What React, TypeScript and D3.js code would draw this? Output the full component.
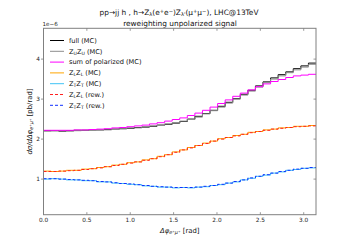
import React from "react";
import * as d3 from "d3";

// histogram contents, 36 bins over [0, pi], units of 1e-6 pb/rad
const nBins = 36;
const fullMC = [2.21, 2.21, 2.2, 2.21, 2.22, 2.22, 2.23, 2.23, 2.24, 2.25, 2.26, 2.27, 2.29, 2.3, 2.32, 2.35, 2.37, 2.4, 2.44, 2.5, 2.57, 2.64, 2.72, 2.82, 2.92, 3.01, 3.12, 3.22, 3.33, 3.43, 3.53, 3.61, 3.68, 3.76, 3.83, 3.9];
const unpolMC = [2.2, 2.21, 2.21, 2.2, 2.21, 2.22, 2.22, 2.24, 2.23, 2.24, 2.26, 2.28, 2.28, 2.31, 2.33, 2.34, 2.38, 2.41, 2.45, 2.49, 2.55, 2.63, 2.71, 2.8, 2.9, 3.0, 3.1, 3.2, 3.3, 3.41, 3.5, 3.58, 3.66, 3.73, 3.8, 3.87];
const sumPolMC = [2.22, 2.22, 2.22, 2.22, 2.23, 2.23, 2.24, 2.25, 2.26, 2.28, 2.29, 2.31, 2.33, 2.35, 2.38, 2.41, 2.45, 2.49, 2.53, 2.59, 2.65, 2.72, 2.8, 2.89, 2.98, 3.07, 3.15, 3.23, 3.31, 3.38, 3.44, 3.49, 3.54, 3.58, 3.6, 3.62];
const longMC = [1.2, 1.19, 1.2, 1.22, 1.22, 1.25, 1.26, 1.29, 1.31, 1.35, 1.37, 1.41, 1.43, 1.48, 1.51, 1.57, 1.61, 1.68, 1.73, 1.79, 1.84, 1.9, 1.95, 2.01, 2.04, 2.09, 2.12, 2.17, 2.19, 2.23, 2.25, 2.28, 2.29, 2.32, 2.32, 2.34];
const transMC = [1.0, 1.01, 1.0, 0.98, 0.98, 0.96, 0.96, 0.93, 0.93, 0.9, 0.89, 0.87, 0.86, 0.83, 0.82, 0.8, 0.8, 0.78, 0.79, 0.78, 0.8, 0.81, 0.84, 0.86, 0.9, 0.93, 0.98, 1.02, 1.07, 1.1, 1.15, 1.18, 1.22, 1.24, 1.27, 1.28];
const longRew = [1.19, 1.19, 1.2, 1.21, 1.22, 1.24, 1.26, 1.28, 1.31, 1.34, 1.37, 1.4, 1.43, 1.47, 1.51, 1.56, 1.61, 1.67, 1.73, 1.78, 1.84, 1.89, 1.95, 2.0, 2.04, 2.08, 2.12, 2.16, 2.19, 2.22, 2.25, 2.27, 2.29, 2.31, 2.32, 2.33];
const transRew = [1.01, 1.01, 1.0, 0.99, 0.98, 0.97, 0.96, 0.94, 0.93, 0.91, 0.89, 0.88, 0.86, 0.84, 0.82, 0.81, 0.8, 0.79, 0.79, 0.79, 0.8, 0.82, 0.84, 0.87, 0.9, 0.94, 0.98, 1.03, 1.07, 1.11, 1.15, 1.19, 1.22, 1.25, 1.27, 1.29];

const xTicks = [0, 0.5, 1.0, 1.5, 2.0, 2.5, 3.0];
const yTicks = [1, 2, 3, 4];

type Seg = { t: string; s?: "sub" | "sup" };

const series: { label: Seg[]; values: number[]; color: string; dash?: string }[] = [
  { label: [{ t: "full (MC)" }], values: fullMC, color: "#000000" },
  { label: [{ t: "Z" }, { t: "U", s: "sub" }, { t: "Z" }, { t: "U", s: "sub" }, { t: " (MC)" }], values: unpolMC, color: "#8c8c8c" },
  { label: [{ t: "sum of polarized (MC)" }], values: sumPolMC, color: "#ff00ff" },
  { label: [{ t: "Z" }, { t: "L", s: "sub" }, { t: "Z" }, { t: "L", s: "sub" }, { t: " (MC)" }], values: longMC, color: "#ffa500" },
  { label: [{ t: "Z" }, { t: "T", s: "sub" }, { t: "Z" }, { t: "T", s: "sub" }, { t: " (MC)" }], values: transMC, color: "#3fc3f5" },
  { label: [{ t: "Z" }, { t: "L", s: "sub" }, { t: "Z" }, { t: "L", s: "sub" }, { t: " (rew.)" }], values: longRew, color: "#ff2020", dash: "3,2" },
  { label: [{ t: "Z" }, { t: "T", s: "sub" }, { t: "Z" }, { t: "T", s: "sub" }, { t: " (rew.)" }], values: transRew, color: "#1030ff", dash: "3,2" },
];

const title1: Seg[] = [
  { t: "pp\u2192jj h , h\u2192Z" }, { t: "\u03bb", s: "sub" }, { t: "(e" }, { t: "+", s: "sup" }, { t: "e" }, { t: "\u2212", s: "sup" },
  { t: ")Z" }, { t: "\u03bb'", s: "sub" }, { t: "(\u03bc" }, { t: "+", s: "sup" }, { t: "\u03bc" }, { t: "\u2212", s: "sup" }, { t: "), LHC@13TeV" },
];

function Rich({ segs, size }: { segs: Seg[]; size: number }) {
  return (
    <>
      {segs.map((sg, i) =>
        sg.s ? (
          <tspan key={i} fontSize={size * 0.7} baselineShift={sg.s === "sub" ? "-22%" : "40%"}>{sg.t}</tspan>
        ) : (
          <tspan key={i}>{sg.t}</tspan>
        )
      )}
    </>
  );
}

export default function App() {
  const W = 352, H = 242;
  const L = 43.5, R = 316, T = 28.3, B = 214.7;
  const x = d3.scaleLinear().domain([0, Math.PI]).range([L, R]);
  const y = d3.scaleLinear().domain([0.11, 4.77]).range([B, T]);
  const edges = d3.range(nBins + 1).map(i => (i * Math.PI) / nBins);

  const line = d3
    .line<number>()
    .x((_, i) => x(edges[i]))
    .y(v => y(v))
    .curve(d3.curveStepAfter);
  const stepPath = (vals: number[]) => line([...vals, vals[vals.length - 1]]) || "";

  const font = "DejaVu Sans, sans-serif";
  const axisCol = "#808080";
  const tl = 2.5;

  return (
    <svg width={W} height={H} style={{ position: "absolute", left: 0, top: 0 }} fontFamily={font}>
      <rect width={W} height={H} fill="#fff" />
      <text x={179} y={15} fontSize={7.4} textAnchor="middle" fill="#111"><Rich segs={title1} size={7.4} /></text>
      <text x={180} y={25.5} fontSize={7.4} textAnchor="middle" fill="#111">reweighting unpolarized signal</text>

      {series.map((s, i) => (
        <path key={i} d={stepPath(s.values)} fill="none" stroke={s.color} strokeWidth={1} strokeDasharray={s.dash} />
      ))}

      {/* frame */}
      <rect x={L} y={T} width={R - L} height={B - T} fill="none" stroke={axisCol} strokeWidth={1} />

      {xTicks.map(t => (
        <g key={t}>
          <line x1={x(t)} x2={x(t)} y1={B} y2={B - tl} stroke={axisCol} strokeWidth={0.8} />
          <line x1={x(t)} x2={x(t)} y1={T} y2={T + tl} stroke={axisCol} strokeWidth={0.8} />
          <text x={x(t)} y={B + 7.5} fontSize={5.8} textAnchor="middle" fill="#222">{t.toFixed(1)}</text>
        </g>
      ))}
      {yTicks.map(t => (
        <g key={t}>
          <line x1={L} x2={L - tl} y1={y(t)} y2={y(t)} stroke={axisCol} strokeWidth={0.8} />
          <line x1={R} x2={R - tl} y1={y(t)} y2={y(t)} stroke={axisCol} strokeWidth={0.8} />
          <text x={L - 3.5} y={y(t) + 2} fontSize={5.8} textAnchor="end" fill="#222">{t}</text>
        </g>
      ))}
      <text x={L - 1} y={26} fontSize={5.6} fill="#222">1e{"\u2212"}6</text>

      {/* axis labels */}
      <text x={(L + R) / 2} y={233} fontSize={6.9} textAnchor="middle" fill="#111">
        <tspan fontStyle="italic">{"\u0394\u03c6"}</tspan>
        <tspan fontSize={4.9} fontStyle="italic" baselineShift="-25%">{"e\u207a\u03bc\u207a"}</tspan>
        <tspan> [rad]</tspan>
      </text>
      <text transform={`translate(32,${(T + B) / 2}) rotate(-90)`} fontSize={6.9} textAnchor="middle" fill="#111">
        <tspan fontStyle="italic">{"d\u03c3/d\u0394\u03c6"}</tspan>
        <tspan fontSize={4.9} fontStyle="italic" baselineShift="-25%">{"e\u207a\u03bc\u207a"}</tspan>
        <tspan> [pb/rad]</tspan>
      </text>

      {/* legend */}
      {series.map((s, i) => {
        const ly = 40.5 + i * 10.8;
        return (
          <g key={i}>
            <line x1={50} x2={64} y1={ly} y2={ly} stroke={s.color} strokeWidth={1} strokeDasharray={s.dash} />
            <text x={69} y={ly + 2.2} fontSize={6.6} fill="#111"><Rich segs={s.label} size={6.6} /></text>
          </g>
        );
      })}
    </svg>
  );
}
